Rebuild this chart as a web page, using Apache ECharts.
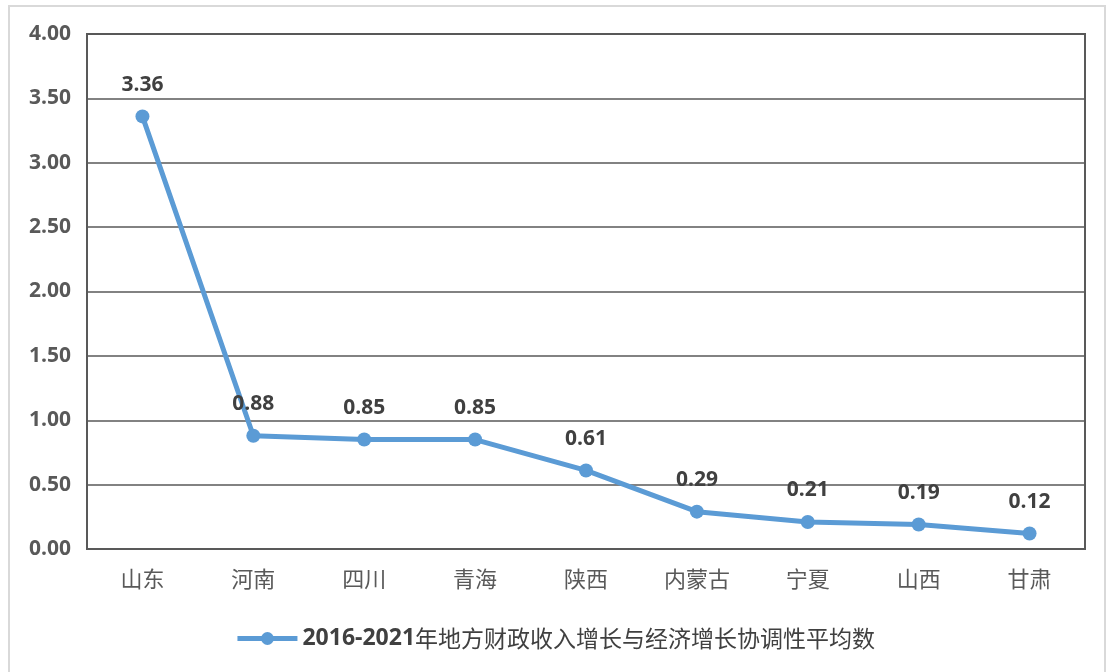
<!DOCTYPE html>
<html>
<head>
<meta charset="utf-8">
<script src="https://cdn.jsdelivr.net/npm/echarts@6/dist/echarts.min.js"></script>
<style>
  html, body { margin: 0; padding: 0; background: #fff; overflow: hidden; }
  #frame { position: absolute; left: 8px; top: 5px; width: 1098px; height: 700px; border: 2px solid #d9d9d9; box-sizing: border-box; }
  #chart { position: absolute; left: 0; top: 0; width: 1110px; height: 672px; }
</style>
</head>
<body>
<div id="frame"></div>
<div id="chart"></div>
<script>
const provinces = ['山东', '河南', '四川', '青海', '陕西', '内蒙古', '宁夏', '山西', '甘肃']
const avgIndex = [3.36, 0.88, 0.85, 0.85, 0.61, 0.29, 0.21, 0.19, 0.12]
const yearSpan = '2016-2021'
const seriesName = yearSpan + '年地方财政收入增长与经济增长协调性平均数'

const chart = echarts.init(document.getElementById('chart'))
chart.setOption({
  animation: false,
  grid: { // 布局 + 外框
    left: 87,
    right: 25,
    top: 34,
    bottom: 123,
    show: true,
    borderColor: '#595959',
    borderWidth: 2
  },
  xAxis: {
    type: 'category',
    data: provinces,
    boundaryGap: true,
    axisLine: { show: true, lineStyle: { color: '#595959', width: 2 } },
    axisTick: { show: false },
    axisLabel: {
      margin: 19,
      fontSize: 22,
      color: '#595959',
      fontFamily: 'Noto Sans CJK SC'
    }
  },
  yAxis: {
    type: 'value',
    min: 0,
    max: 4,
    interval: 0.5,
    axisLine: { show: true, lineStyle: { color: '#595959', width: 2 } },
    axisTick: { show: false },
    axisLabel: {
      margin: 16,
      fontSize: 21,
      fontWeight: 'bold',
      color: '#595959',
      fontFamily: 'Open Sans',
      formatter: v => v.toFixed(2)
    },
    splitLine: { // 网格线
      lineStyle: { color: '#595959', width: 1.5 }
    }
  },
  legend: {
    bottom: 17,
    left: 'center',
    itemWidth: 60,
    itemHeight: 16,
    itemGap: 4,
    lineStyle: { width: 5 },
    formatter: name => '{b|' + yearSpan + '}{n|' + name.slice(yearSpan.length) + '}',
    textStyle: {
      color: '#404040',
      rich: {
        b: { fontSize: 23, fontWeight: 'bold', color: '#404040', fontFamily: 'Open Sans' },
        n: { fontSize: 23, color: '#404040', fontFamily: 'Noto Sans CJK SC' }
      }
    },
    data: [seriesName]
  },
  series: [{
    name: seriesName,
    type: 'line',
    data: avgIndex,
    symbol: 'circle',
    symbolSize: 14,
    itemStyle: { color: '#5B9BD5' },
    lineStyle: { color: '#5B9BD5', width: 5 },
    label: {
      show: true,
      position: 'top',
      distance: 14,
      fontSize: 21,
      fontWeight: 'bold',
      color: '#404040',
      fontFamily: 'Open Sans',
      formatter: p => p.value.toFixed(2)
    }
  }]
})
</script>
</body>
</html>
